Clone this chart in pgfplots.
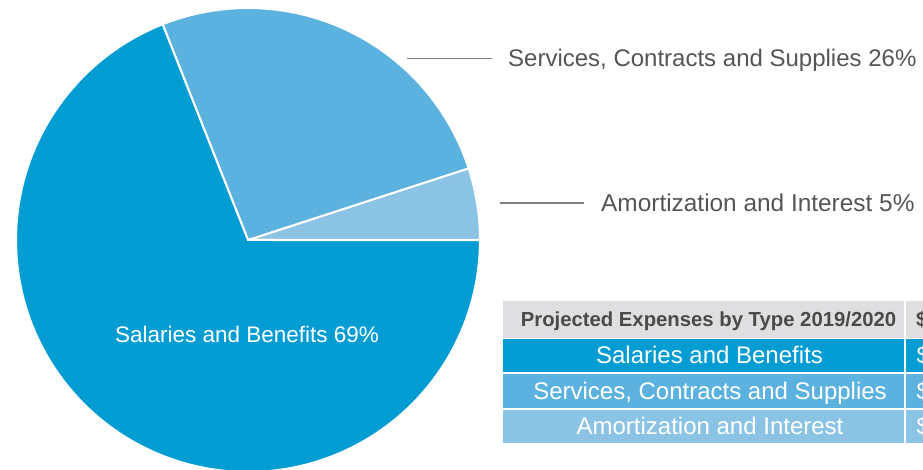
\documentclass[border=0pt]{standalone}
\usepackage{pgfplots}
\pgfplotsset{compat=1.18}
\usepackage{pgfplotstable}
\usepackage{fontspec}
\setmainfont{Liberation Sans}
\definecolor{cSal}{HTML}{039CD3}
\definecolor{cSer}{HTML}{5CB2DF}
\definecolor{cAmo}{HTML}{8BC3E5}
\definecolor{cHead}{HTML}{DFDFE1}
\definecolor{cHeadTxt}{HTML}{4A4A4A}
\definecolor{cTxt}{HTML}{555555}
\definecolor{cLine}{HTML}{808080}
% shares in percent, counter-clockwise from 0 degrees
\pgfplotstableread{
name share
Amortization 5
Services 26
Salaries 69
}\shares
\pgfplotstablegetelem{0}{share}\of\shares \edef\sA{\pgfplotsretval}
\pgfplotstablegetelem{1}{share}\of\shares \edef\sB{\pgfplotsretval}
\pgfplotstablegetelem{2}{share}\of\shares \edef\sC{\pgfplotsretval}
\pgfmathsetmacro{\aA}{\sA*3.6}
\pgfmathsetmacro{\aB}{(\sA+\sB)*3.6}
\pgfmathsetmacro{\aC}{(\sA+\sB+\sC)*3.6}
\begin{document}
\begin{tikzpicture}
\path[use as bounding box] (0pt,0pt) rectangle (923pt,469pt);
\clip (0pt,0pt) rectangle (923pt,469pt);
\begin{axis}[at={(248pt,229pt)}, anchor=center, x=232pt, y=232pt,
  xmin=-1.05, xmax=1.05, ymin=-1.05, ymax=1.05, hide axis, clip=false, scale only axis]
\addplot[fill=cAmo, draw=white, line width=2pt, domain=0:\aA, samples=20, variable=\t]
  ({cos(t)},{sin(t)}) -- (axis cs:0,0) -- cycle;
\addplot[fill=cSer, draw=white, line width=2pt, domain=\aA:\aB, samples=60, variable=\t]
  ({cos(t)},{sin(t)}) -- (axis cs:0,0) -- cycle;
\addplot[fill=cSal, draw=white, line width=2pt, domain=\aB:\aC, samples=150, variable=\t]
  ({cos(t)},{sin(t)}) -- (axis cs:0,0) -- cycle;
\end{axis}
% pie label
\node[anchor=base, inner sep=0, text=white, font=\fontsize{22.5}{26}\selectfont] at (247pt,127pt) {Salaries and Benefits 69\%};
% outside labels
\draw[cLine, line width=1.3pt] (407pt,410.7pt) -- (492pt,410.7pt);
\node[anchor=base west, inner sep=0, text=cTxt, font=\fontsize{24}{28}\selectfont] at (508pt,402.5pt) {Services, Contracts and Supplies 26\%};
\draw[cLine, line width=1.3pt] (500pt,266pt) -- (584pt,266pt);
\node[anchor=base west, inner sep=0, text=cTxt, font=\fontsize{24.4}{28}\selectfont] at (601pt,257.5pt) {Amortization and Interest 5\%};
% table
\fill[cHead] (503pt,131pt) rectangle (904pt,168pt);
\fill[cHead] (905.5pt,131pt) rectangle (930pt,168pt);
\fill[cSal] (503pt,97pt) rectangle (904pt,130pt);
\fill[cSal] (905.5pt,97pt) rectangle (930pt,130pt);
\fill[cSer] (503pt,61pt) rectangle (904pt,95pt);
\fill[cSer] (905.5pt,61pt) rectangle (930pt,95pt);
\fill[cAmo] (503pt,26pt) rectangle (904pt,59.5pt);
\fill[cAmo] (905.5pt,26pt) rectangle (930pt,59.5pt);
\node[anchor=base, inner sep=0, text=cHeadTxt, font=\bfseries\fontsize{20.3}{24}\selectfont] at (708.5pt,142.3pt) {Projected Expenses by Type 2019/2020};
\node[anchor=base west, inner sep=0, text=cHeadTxt, font=\bfseries\fontsize{20.3}{24}\selectfont] at (916pt,142.3pt) {\$};
\node[anchor=base, inner sep=0, text=white, font=\fontsize{24}{28}\selectfont] at (709.5pt,105.7pt) {Salaries and Benefits};
\node[anchor=base west, inner sep=0, text=white, font=\fontsize{24}{28}\selectfont] at (916.5pt,105.7pt) {\$};
\node[anchor=base, inner sep=0, text=white, font=\fontsize{24}{28}\selectfont] at (710pt,70pt) {Services, Contracts and Supplies};
\node[anchor=base west, inner sep=0, text=white, font=\fontsize{24}{28}\selectfont] at (916.5pt,70pt) {\$};
\node[anchor=base, inner sep=0, text=white, font=\fontsize{24}{28}\selectfont] at (710pt,35pt) {Amortization and Interest};
\node[anchor=base west, inner sep=0, text=white, font=\fontsize{24}{28}\selectfont] at (916.5pt,35pt) {\$};
\end{tikzpicture}
\end{document}
